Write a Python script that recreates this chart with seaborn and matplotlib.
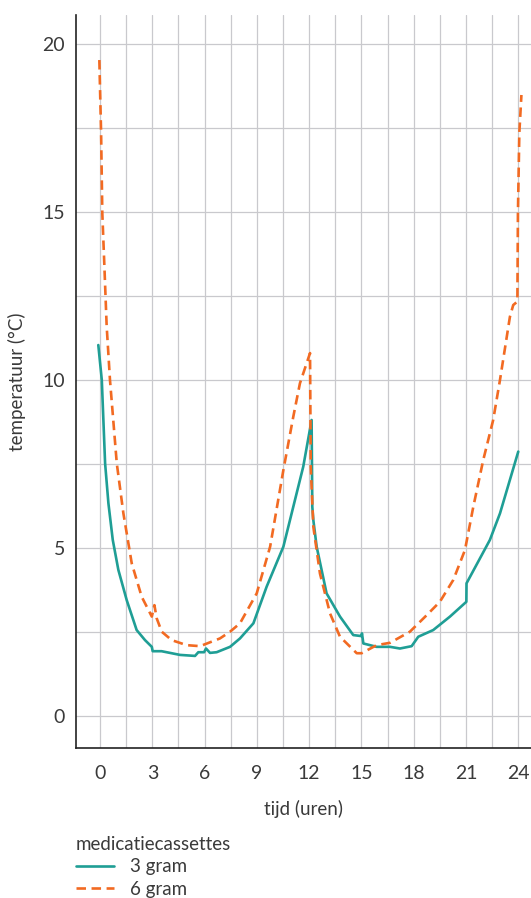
import numpy as np
import pandas as pd
import matplotlib
matplotlib.use("Agg")
import matplotlib.pyplot as plt
from matplotlib.ticker import MultipleLocator
import seaborn as sns

# temperatuurverloop van de medicatiecassettes
tijd_3g = [-0.1, 0.1, 0.29, 0.48, 0.73, 1.05, 1.53, 2.1, 2.58, 2.97, 3.02, 3.53,
           4.59, 5.45, 5.64, 5.97, 6.08, 6.31, 6.69, 7.46, 8.03, 8.8, 9.56, 10.52,
           11.09, 11.66, 12.14, 12.18, 12.24, 12.43, 13.0, 13.77, 14.53, 15.0, 15.03,
           15.11, 15.87, 16.64, 17.21, 17.88, 18.26, 19.12, 20.08, 21.02, 21.03, 22.37,
           22.95, 24.0]
temp_3g = [11.04, 10.0, 7.52, 6.33, 5.24, 4.35, 3.45, 2.56, 2.26, 2.06, 1.93, 1.93,
           1.82, 1.79, 1.9, 1.9, 2.01, 1.88, 1.9, 2.06, 2.31, 2.76, 3.85, 5.04,
           6.23, 7.42, 8.81, 6.23, 5.83, 5.04, 3.65, 2.96, 2.41, 2.38, 2.46,
           2.16, 2.06, 2.06, 2.01, 2.08, 2.36, 2.56, 2.96, 3.4, 3.95, 5.24,
           6.03, 7.87]

tijd_6g = [-0.04, 0.06, 0.13, 0.25, 0.38, 0.57, 0.96, 1.34, 1.82, 2.39, 2.97, 3.12,
           3.25, 3.54, 4.11, 4.97, 5.74, 6.88, 7.46, 8.03, 8.99, 9.76, 10.52, 11.09,
           11.47, 12.05, 12.09, 12.24, 12.62, 13.2, 13.77, 14.73, 15.01, 15.87, 16.64,
           17.78, 18.74, 19.5, 20.27, 20.94, 21.42, 21.99, 22.56, 22.95, 23.52, 23.71,
           23.94, 23.95, 23.98, 24.06, 24.18]
temp_6g = [19.52, 17.35, 14.96, 13.37, 11.6, 10.0, 7.52, 6.03, 4.54, 3.55, 2.96, 3.3,
           2.91, 2.51, 2.26, 2.11, 2.08, 2.31, 2.51, 2.76, 3.65, 5.04, 7.32, 8.91,
           9.9, 10.8, 7.42, 5.63, 4.24, 3.05, 2.36, 1.87, 1.87, 2.11, 2.18,
           2.51, 3.0, 3.4, 4.05, 4.94, 6.23, 7.62, 8.81, 10.0, 11.88, 12.23,
           12.33, 12.48, 14.96, 17.35, 18.48]

x_ticks = [0, 3, 6, 9, 12, 15, 18, 21, 24]
y_ticks = [0, 5, 10, 15, 20]

df = pd.concat([
    pd.DataFrame({"tijd": tijd_3g, "temp": temp_3g, "cassette": "3 gram"}),
    pd.DataFrame({"tijd": tijd_6g, "temp": temp_6g, "cassette": "6 gram"}),
], ignore_index=True)

sns.set_theme(style="whitegrid")
plt.rcParams["font.family"] = ["Lato", "DejaVu Sans"]
tekst = "#3a3a3a"

fig = plt.figure(figsize=(5.31, 8.98), dpi=100)
ax = fig.add_axes([76 / 531, 1 - 748 / 898, 1 - 76 / 531, (748 - 15) / 898])

kleuren = {"3 gram": "#1f9e95", "6 gram": "#f26a22"}
sns.lineplot(data=df, x="tijd", y="temp", hue="cassette", style="cassette",
             palette=kleuren, dashes={"3 gram": "", "6 gram": (3.6, 2.1)},
             estimator=None, sort=False, linewidth=1.9, ax=ax, legend=True)

ax.set_xlim(-1.38, 24.73)
ax.set_ylim(-0.95, 20.86)
ax.set_xticks(x_ticks)
ax.set_yticks(y_ticks)
ax.xaxis.set_minor_locator(MultipleLocator(1.5))
ax.yaxis.set_minor_locator(MultipleLocator(2.5))
ax.grid(which="both", color="#c9c9cd", linewidth=0.9)
ax.tick_params(which="both", length=0, colors=tekst, labelsize=14)
ax.tick_params(axis="x", pad=12)
ax.tick_params(axis="y", pad=8)

for s in ["top", "right"]:
    ax.spines[s].set_visible(False)
for s in ["left", "bottom"]:
    ax.spines[s].set_color("#222222")
    ax.spines[s].set_linewidth(1.2)

ax.set_xlabel("tijd (uren)", fontsize=13.5, color=tekst, labelpad=13)
ax.set_ylabel("temperatuur (°C)", fontsize=13.5, color=tekst, labelpad=12)

handles, labels = ax.get_legend_handles_labels()
ax.get_legend().remove()
leg = fig.legend(handles, labels, title="medicatiecassettes", loc="upper left",
                 bbox_to_anchor=(76 / 531, 1 - 836 / 898), frameon=False,
                 fontsize=13.5, title_fontsize=13.5, alignment="left",
                 handlelength=2.0, handletextpad=0.9, labelspacing=0.28,
                 borderpad=0, borderaxespad=0)
for t in leg.get_texts():
    t.set_color(tekst)
leg.get_title().set_color(tekst)

fig.savefig("out.png", dpi=100)
